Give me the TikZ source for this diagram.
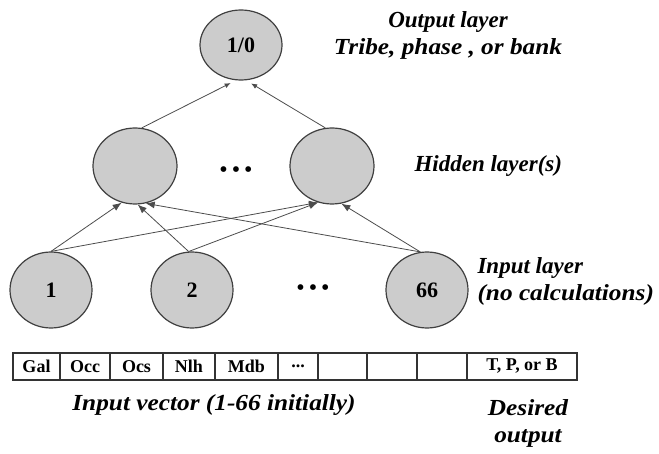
\documentclass[tikz,border=0pt]{standalone}
\usepackage{graphicx}
\usepackage{fontspec}
\setmainfont{Liberation Serif}
\usetikzlibrary{shapes, positioning, arrows.meta}

\newcommand{\widetext}[1]{\scalebox{1.1}[1]{#1}}

\begin{document}
\begin{tikzpicture}[
      x=1pt, y=-1pt,
      neuron/.style={ellipse, draw=black!75, line width=1.2pt, fill=gray!40,
        inner sep=0pt, minimum width=84pt, minimum height=76pt,
        font=\fontsize{22}{22}\selectfont\bfseries},
      layertext/.style={font=\fontsize{23}{27}\selectfont\bfseries\itshape},
      dotsbox/.style={font=\fontsize{24}{24}\selectfont, inner sep=0pt},
      link/.style={draw=black!70, line width=0.8pt, -{Latex[length=9pt,width=7pt]}},
      outlink/.style={draw=black!70, line width=0.8pt, shorten >=6pt,
        -{Latex[length=6pt,width=5pt]}},
      cell/.style={rectangle, draw=black!80, line width=1.2pt, minimum height=27pt,
        inner sep=0pt, font=\fontsize{18}{18}\selectfont\bfseries}
    ]
    \useasboundingbox (0,0) rectangle (659,454);

    \node[neuron, minimum width=82pt, minimum height=70pt] (out) at (241,45) {1/0};

    \node[neuron] (hidL) at (135,166) {};
    \node[neuron] (hidR) at (332,166) {};
    \node[dotsbox] (hdots) at (236,172) {\textbullet\,\textbullet\,\textbullet};

    \node[neuron, minimum width=82pt] (in1) at (51,290) {1};
    \node[neuron, minimum width=82pt] (in2) at (192,290) {2};
    \node[neuron, minimum width=82pt] (in66) at (427,290) {66};
    \node[dotsbox] (idots) at (313,290) {\textbullet\,\textbullet\,\textbullet};

    \draw[link] (in1.north) -- (hidL.250);
    \draw[link] (in1.north) -- (hidR.249);
    \draw[link] (in2.95) -- (hidL.274);
    \draw[link] (in2.95) -- (hidR.249);
    \draw[link] (in66.100) -- (hidL.286);
    \draw[link] (in66.100) -- (hidR.284);

    \draw[outlink] (hidL.80) -- (out.262);
    \draw[outlink] (hidR.100) -- (out.278);

    \node[layertext, align=center] (outlabel) at (448,35)
      {Output layer\\\widetext{Tribe, phase , or bank}};
    \node[layertext, anchor=west] (hidlabel) at (411,166) {Hidden layer(s)};
    \node[layertext, align=left, anchor=west] (inlabel) at (474,281)
      {Input layer\\\widetext{(no calculations)}};

    \foreach \xl/\xr/\txt/\nm in {13/60/Gal/gal, 60/110/Occ/occ, 110/163/Ocs/ocs,
        163/215/Nlh/nlh, 215/278/Mdb/mdb, 278/318/{...}/more, 318/367/{}/ea,
        367/417/{}/eb, 417/467/{}/ec, 467/577/{T, P, or B}/tpb}
    {
      \pgfmathsetmacro\cw{\xr-\xl}
      \node[cell, minimum width=\cw pt] (\nm) at ({(\xl+\xr)/2},366.5) {\txt};
    }

    \node[layertext] (veclabel) at (214,405) {\widetext{Input vector (1-66 initially)}};
    \node[layertext, align=center] (desired) at (528,423)
      {\widetext{Desired}\\\widetext{output}};
\end{tikzpicture}
\end{document}
